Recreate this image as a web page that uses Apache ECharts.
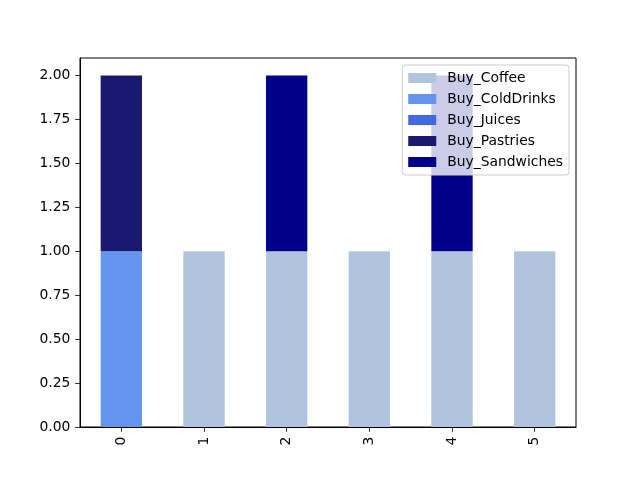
<!DOCTYPE html>
<html>
<head>
<meta charset="utf-8">
<script src="https://cdn.jsdelivr.net/npm/echarts@6/dist/echarts.min.js"></script>
<style>html,body{margin:0;padding:0;background:#fff}#c{width:640px;height:480px}</style>
</head>
<body>
<div id="c"></div>
<script>
const categories = ['0','1','2','3','4','5'];
const buyCoffee = [0,1,1,1,1,1];
const buyColdDrinks = [1,0,0,0,0,0];
const buyJuices = [0,0,0,0,0,0];
const buyPastries = [1,0,0,0,0,0];
const buySandwiches = [0,0,1,0,1,0];
const yTicks = [0,0.25,0.5,0.75,1.0,1.25,1.5,1.75,2.0];

const seriesDefs = [
  ['Buy_Coffee', buyCoffee, '#B0C4DE'],
  ['Buy_ColdDrinks', buyColdDrinks, '#6495ED'],
  ['Buy_Juices', buyJuices, '#4169E1'],
  ['Buy_Pastries', buyPastries, '#191970'],
  ['Buy_Sandwiches', buySandwiches, '#00008B']
];
const FONT = 'DejaVu Sans';
const FS = 13.89;
const chart = echarts.init(document.getElementById('c'), null, {renderer:'canvas'});
chart.setOption({
  animation: false,
  backgroundColor: '#fff',
  grid: {left: 80, right: 64, top: 58, bottom: 53, show: true, borderColor: '#000', borderWidth: 1, backgroundColor: 'transparent', containLabel: false},
  legend: {
    orient: 'vertical', right: 71, top: 65,
    backgroundColor: 'rgba(255,255,255,0.8)', borderColor: '#cccccc', borderWidth: 1, borderRadius: 3,
    padding: [6, 6, 6, 6],
    itemWidth: 28, itemHeight: 10, itemGap: 7,
    icon: 'rect',
    textStyle: {fontFamily: FONT, fontSize: FS, color: '#000', padding: [0,0,0,6]},
    data: seriesDefs.map(d => d[0])
  },
  xAxis: {
    type: 'category', data: categories,
    axisLine: {show: true, lineStyle: {color: '#000', width: 1}},
    axisTick: {show: true, alignWithLabel: true, length: 4.86, lineStyle: {color: '#000', width: 0.8}},
    axisLabel: {rotate: 90, margin: 9.7, color: '#000', fontFamily: FONT, fontSize: FS},
    splitLine: {show: false}
  },
  yAxis: {
    type: 'value', min: 0, max: 2.1,
    axisLine: {show: true, lineStyle: {color: '#000', width: 1}},
    axisTick: {show: true, length: 4.86, lineStyle: {color: '#000', width: 0.8}, customValues: yTicks},
    axisLabel: {margin: 9.7, color: '#000', fontFamily: FONT, fontSize: FS, customValues: yTicks, formatter: v => v.toFixed(2)},
    splitLine: {show: false}
  },
  series: seriesDefs.map(d => ({
    name: d[0], type: 'bar', stack: 'total', data: d[1], barWidth: '50%',
    itemStyle: {color: d[2], borderWidth: 0}
  }))
});
</script>
</body>
</html>
